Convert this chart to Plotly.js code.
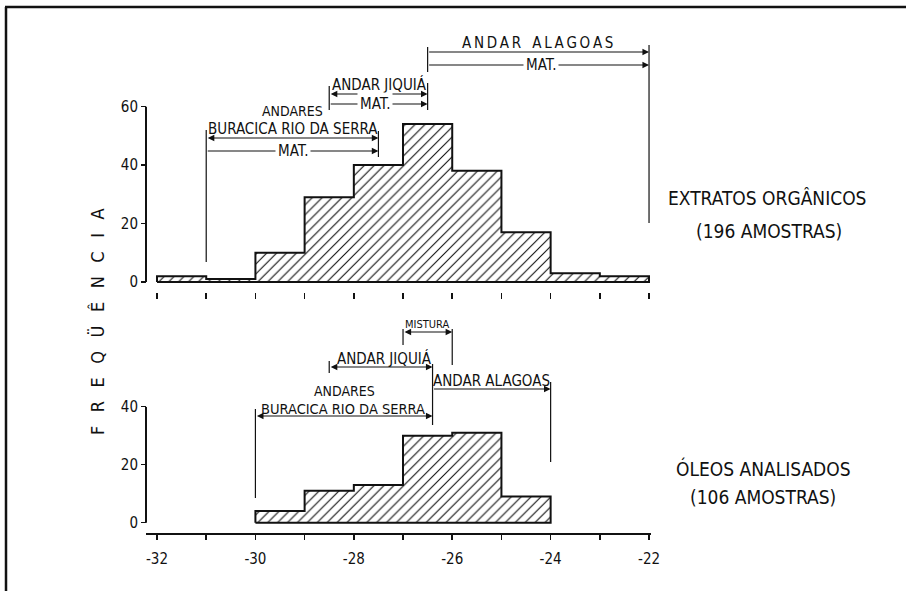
<!DOCTYPE html>
<html><head><meta charset="utf-8">
<script src="https://cdn.plot.ly/plotly-3.0.1.min.js"></script>
<style>html,body{margin:0;padding:0;background:#fff}#chart{width:906px;height:591px}</style>
</head><body><div id="chart"></div>
<script>
// ---- data ----
const binWidth = 1;
const topBinLeft = [-32, -31, -30, -29, -28, -27, -26, -25, -24, -23];
const topCounts  = [2, 1, 10, 29, 40, 54, 38, 17, 3, 2];
const botBinLeft = [-30, -29, -28, -27, -26, -25];
const botCounts  = [4, 11, 13, 30, 31, 9];
const topYTicks = [0, 20, 40, 60];
const botYTicks = [0, 20, 40];
const xTickVals = [-32, -31, -30, -29, -28, -27, -26, -25, -24, -23, -22];
const xTickText = ['-32', '', '-30', '', '-28', '', '-26', '', '-24', '', '-22'];
const topLabel1 = 'EXTRATOS ORGÂNICOS';
const topLabel2 = '(196 AMOSTRAS)';
const botLabel1 = 'ÓLEOS ANALISADOS';
const botLabel2 = '(106 AMOSTRAS)';
const yTitle = 'FREQÜÊNCIA';

// ---- helpers ----
const W = 906, H = 591;
const px = p => p / W;
const py = p => 1 - p / H;
const INK = '#111';
const FONT = '"Liberation Sans Narrow", "DejaVu Sans Condensed", "Roboto Condensed", Roboto, "Liberation Sans", sans-serif';

function outline(lefts, counts, w) {
  const xs = [lefts[0]], ys = [0];
  for (let i = 0; i < lefts.length; i++) { xs.push(lefts[i]); ys.push(counts[i]); }
  const end = lefts[lefts.length - 1] + w;
  xs.push(end); ys.push(counts[counts.length - 1]);
  xs.push(end); ys.push(0);
  xs.push(lefts[0]); ys.push(0);
  return {xs, ys};
}
const hatch = {shape: '/', fgcolor: INK, bgcolor: 'white', size: 7, solidity: 0.16};

const oTop = outline(topBinLeft, topCounts, binWidth);
const oBot = outline(botBinLeft, botCounts, binWidth);

const traces = [
  {type: 'bar', x: topBinLeft, y: topCounts, width: binWidth, offset: 0, xaxis: 'x2', yaxis: 'y',
   marker: {color: 'white', pattern: hatch, line: {width: 0}}, hoverinfo: 'skip'},
  {type: 'scatter', mode: 'lines', x: oTop.xs, y: oTop.ys, xaxis: 'x2', yaxis: 'y',
   line: {shape: 'hv', color: INK, width: 2}, hoverinfo: 'skip'},
  {type: 'bar', x: botBinLeft, y: botCounts, width: binWidth, offset: 0, xaxis: 'x', yaxis: 'y2',
   marker: {color: 'white', pattern: hatch, line: {width: 0}}, hoverinfo: 'skip'},
  {type: 'scatter', mode: 'lines', x: oBot.xs, y: oBot.ys, xaxis: 'x', yaxis: 'y2',
   line: {shape: 'hv', color: INK, width: 2}, hoverinfo: 'skip'}
];

// ---- decorations ----
const shapes = [];
const annotations = [];
function vline(xr, x, p0, p1, w) {
  shapes.push({type: 'line', xref: xr, yref: 'paper', x0: x, x1: x, y0: py(p0), y1: py(p1),
               line: {color: INK, width: w || 1.2}});
}
function arrow(xr, x0, x1, p, both) {
  annotations.push({xref: xr, yref: 'paper', x: x1, y: py(p), axref: xr, ax: x0, ayref: 'pixel', ay: 0,
    text: '', showarrow: true, arrowhead: 2, arrowsize: 1.1, arrowwidth: 1.2, arrowcolor: INK,
    arrowside: both ? 'end+start' : 'end', startarrowhead: 2, startarrowsize: 1.1,
    standoff: 0, startstandoff: 0, font: {size: 1}});
}
function label(xr, x, p, t, size, bg) {
  annotations.push({xref: xr, yref: 'paper', x: x, y: py(p), text: t, showarrow: false,
    xanchor: 'center', yanchor: 'middle', font: {size: size || 14, color: INK, family: FONT},
    bgcolor: bg ? 'white' : 'rgba(0,0,0,0)', borderpad: bg ? 2 : 0});
}

// top panel
vline('x2', -31, 130, 262);
label('x2', -29.24, 111, 'ANDARES', 14);
label('x2', -29.24, 129, 'BURACICA RIO DA SERRA', 15);
arrow('x2', -31, -27.5, 138, true);
arrow('x2', -31, -27.5, 151, false);
label('x2', -29.24, 151, 'MAT.', 15, true);
vline('x2', -27.5, 131, 157);

label('x2', -27.48, 85, 'ANDAR JIQUIÁ', 15);
arrow('x2', -28.5, -26.5, 94, true);
arrow('x2', -28.5, -26.5, 104, false);
label('x2', -27.57, 104, 'MAT.', 15, true);
vline('x2', -28.5, 86, 110);
vline('x2', -26.5, 83, 110);

label('x2', -24.26, 43, 'A N D A R&nbsp;&nbsp; A L A G O A S'.replace(/ /g, '\u2009'), 15);
arrow('x2', -26.5, -22, 52, false);
arrow('x2', -26.5, -22, 65, false);
label('x2', -24.2, 65, 'MAT.', 15, true);
vline('x2', -26.5, 47, 72);
vline('x2', -22, 45, 223);

// bottom panel
label('x', -26.51, 325, 'MISTURA', 11);
arrow('x', -27, -26, 332, true);
vline('x', -27, 329, 345);
vline('x', -26, 329, 365);

label('x', -27.37, 358, 'ANDAR JIQUIÁ', 15);
arrow('x', -28.5, -26.4, 367, true);
vline('x', -28.5, 361, 373);
vline('x', -26.4, 364, 425);

label('x', -25.21, 381, 'ANDAR ALAGOAS', 15);
arrow('x', -26.4, -24, 389, false);
vline('x', -24, 382, 462);

label('x', -28.18, 391, 'ANDARES', 14);
label('x', -28.22, 408.5, 'BURACICA RIO DA SERRA', 14.5);
arrow('x', -30, -26.4, 416, true);
vline('x', -30, 409, 498);

// y axis lines (only over value range)
shapes.push({type: 'line', xref: 'paper', yref: 'y', x0: px(146), x1: px(146), y0: 0, y1: topYTicks[topYTicks.length - 1], line: {color: INK, width: 2}});
shapes.push({type: 'line', xref: 'paper', yref: 'y2', x0: px(146), x1: px(146), y0: 0, y1: botYTicks[botYTicks.length - 1], line: {color: INK, width: 2}});

// frame
shapes.push({type: 'line', xref: 'paper', yref: 'paper', x0: px(5), x1: 1, y0: py(7), y1: py(7), line: {color: INK, width: 2.5}});
shapes.push({type: 'line', xref: 'paper', yref: 'paper', x0: px(6), x1: px(6), y0: py(7), y1: 0, line: {color: INK, width: 2.5}});

// right side labels
function plabel(x, y, t, size) {
  annotations.push({xref: 'paper', yref: 'paper', x: px(x), y: py(y), text: t, showarrow: false,
    xanchor: 'center', yanchor: 'middle', font: {size: size, color: INK, family: FONT}});
}
plabel(767, 198, topLabel1, 19);
plabel(769, 231, topLabel2, 19);
plabel(763, 468, botLabel1, 19);
plabel(763, 497, botLabel2, 19);

// y title
annotations.push({xref: 'paper', yref: 'paper', x: px(97), y: py(322), textangle: -90, showarrow: false,
  text: yTitle.split('').join('\u00a0\u00a0\u2009'), xanchor: 'center', yanchor: 'middle',
  font: {size: 18, color: INK, family: FONT}});

const xRange = [-32.224, -21.96];
const xDomain = [px(146), px(651)];
const layout = {
  width: W, height: H,
  margin: {l: 0, r: 0, t: 0, b: 0},
  paper_bgcolor: 'white', plot_bgcolor: 'rgba(0,0,0,0)',
  showlegend: false, bargap: 0,
  font: {family: FONT, color: INK, size: 15},
  xaxis: {domain: xDomain, range: xRange, anchor: 'free', position: py(534),
    showline: true, linewidth: 2, linecolor: INK, ticks: 'outside', ticklen: 5, tickwidth: 1.5, tickcolor: INK,
    tickmode: 'array', tickvals: xTickVals, ticktext: xTickText, ticklabelstandoff: 6,
    showgrid: false, zeroline: false, tickfont: {size: 15, color: INK, family: FONT}},
  xaxis2: {domain: xDomain, range: xRange, anchor: 'free', position: py(292),
    showline: false, ticks: 'outside', ticklen: 6, tickwidth: 1.5, tickcolor: INK,
    tickmode: 'array', tickvals: xTickVals, showticklabels: false, showgrid: false, zeroline: false},
  yaxis: {domain: [py(287.85), py(106.5)], range: [-2, 60], anchor: 'free', position: px(146),
    showline: false, ticks: 'outside', ticklen: 5, tickwidth: 1.5, tickcolor: INK,
    tickmode: 'array', tickvals: topYTicks, showgrid: false, zeroline: false,
    tickfont: {size: 15, color: INK, family: FONT}},
  yaxis2: {domain: [py(528.5), py(406.7)], range: [-2, 40], anchor: 'free', position: px(146),
    showline: false, ticks: 'outside', ticklen: 5, tickwidth: 1.5, tickcolor: INK,
    tickmode: 'array', tickvals: botYTicks, showgrid: false, zeroline: false,
    tickfont: {size: 15, color: INK, family: FONT}},
  shapes: shapes,
  annotations: annotations
};
Plotly.newPlot('chart', traces, layout, {staticPlot: true, displayModeBar: false});
</script></body></html>
